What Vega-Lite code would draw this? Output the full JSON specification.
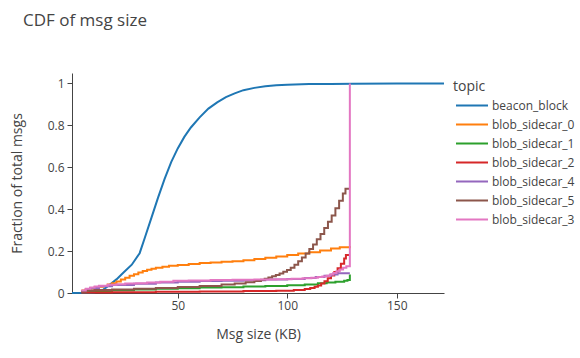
{
  "$schema": "https://vega.github.io/schema/vega-lite/v6.json",
  "autosize": {"type": "none"},
  "padding": {"left": 72, "top": 73, "right": 136, "bottom": 65},
  "width": 372,
  "height": 220,
  "background": "white",
  "title": {"text": "CDF of msg size", "anchor": "start", "frame": "group", "dx": -49, "offset": 30, "baseline": "alphabetic", "font": "Open Sans", "fontSize": 17, "fontWeight": "normal", "color": "#444"},
  "config": {
    "view": {"stroke": null},
    "axis": {"grid": false, "domainColor": "#444", "tickColor": "#444", "labelColor": "#444", "titleColor": "#444", "labelFont": "Open Sans", "titleFont": "Open Sans", "labelFontSize": 12, "titleFontSize": 14, "titleFontWeight": "normal", "tickSize": 5}
  },
  "data": {"values": [
    {"topic":"beacon_block","size":1.7,"frac":0},
    {"topic":"beacon_block","size":8,"frac":0.001},
    {"topic":"beacon_block","size":12,"frac":0.004},
    {"topic":"beacon_block","size":16,"frac":0.016},
    {"topic":"beacon_block","size":19,"frac":0.04},
    {"topic":"beacon_block","size":22,"frac":0.065},
    {"topic":"beacon_block","size":25,"frac":0.095},
    {"topic":"beacon_block","size":29,"frac":0.135},
    {"topic":"beacon_block","size":32.6,"frac":0.19},
    {"topic":"beacon_block","size":35,"frac":0.265},
    {"topic":"beacon_block","size":38,"frac":0.36},
    {"topic":"beacon_block","size":41,"frac":0.455},
    {"topic":"beacon_block","size":44,"frac":0.545},
    {"topic":"beacon_block","size":47,"frac":0.625},
    {"topic":"beacon_block","size":50,"frac":0.69},
    {"topic":"beacon_block","size":53,"frac":0.745},
    {"topic":"beacon_block","size":56,"frac":0.79},
    {"topic":"beacon_block","size":60,"frac":0.838},
    {"topic":"beacon_block","size":64,"frac":0.88},
    {"topic":"beacon_block","size":68,"frac":0.91},
    {"topic":"beacon_block","size":72,"frac":0.935},
    {"topic":"beacon_block","size":76,"frac":0.953},
    {"topic":"beacon_block","size":80,"frac":0.968},
    {"topic":"beacon_block","size":85,"frac":0.979},
    {"topic":"beacon_block","size":90,"frac":0.987},
    {"topic":"beacon_block","size":95,"frac":0.991},
    {"topic":"beacon_block","size":100,"frac":0.994},
    {"topic":"beacon_block","size":110,"frac":0.997},
    {"topic":"beacon_block","size":120,"frac":0.998},
    {"topic":"beacon_block","size":130,"frac":0.999},
    {"topic":"beacon_block","size":150,"frac":0.9995},
    {"topic":"beacon_block","size":171.6,"frac":1},

    {"topic":"blob_sidecar_0","size":6,"frac":0.012},
    {"topic":"blob_sidecar_0","size":8,"frac":0.018},
    {"topic":"blob_sidecar_0","size":10,"frac":0.022},
    {"topic":"blob_sidecar_0","size":12,"frac":0.026},
    {"topic":"blob_sidecar_0","size":14,"frac":0.03},
    {"topic":"blob_sidecar_0","size":16,"frac":0.034},
    {"topic":"blob_sidecar_0","size":18,"frac":0.04},
    {"topic":"blob_sidecar_0","size":20,"frac":0.047},
    {"topic":"blob_sidecar_0","size":22,"frac":0.055},
    {"topic":"blob_sidecar_0","size":24,"frac":0.064},
    {"topic":"blob_sidecar_0","size":26,"frac":0.073},
    {"topic":"blob_sidecar_0","size":28,"frac":0.082},
    {"topic":"blob_sidecar_0","size":30,"frac":0.09},
    {"topic":"blob_sidecar_0","size":32,"frac":0.098},
    {"topic":"blob_sidecar_0","size":34,"frac":0.105},
    {"topic":"blob_sidecar_0","size":36,"frac":0.111},
    {"topic":"blob_sidecar_0","size":38,"frac":0.116},
    {"topic":"blob_sidecar_0","size":40,"frac":0.12},
    {"topic":"blob_sidecar_0","size":43,"frac":0.125},
    {"topic":"blob_sidecar_0","size":46,"frac":0.13},
    {"topic":"blob_sidecar_0","size":50,"frac":0.134},
    {"topic":"blob_sidecar_0","size":55,"frac":0.139},
    {"topic":"blob_sidecar_0","size":60,"frac":0.143},
    {"topic":"blob_sidecar_0","size":65,"frac":0.146},
    {"topic":"blob_sidecar_0","size":70,"frac":0.149},
    {"topic":"blob_sidecar_0","size":75,"frac":0.152},
    {"topic":"blob_sidecar_0","size":80,"frac":0.156},
    {"topic":"blob_sidecar_0","size":85,"frac":0.162},
    {"topic":"blob_sidecar_0","size":90,"frac":0.168},
    {"topic":"blob_sidecar_0","size":95,"frac":0.174},
    {"topic":"blob_sidecar_0","size":100,"frac":0.181},
    {"topic":"blob_sidecar_0","size":105,"frac":0.188},
    {"topic":"blob_sidecar_0","size":110,"frac":0.195},
    {"topic":"blob_sidecar_0","size":115,"frac":0.203},
    {"topic":"blob_sidecar_0","size":120,"frac":0.212},
    {"topic":"blob_sidecar_0","size":124,"frac":0.218},
    {"topic":"blob_sidecar_0","size":128.6,"frac":0.224},

    {"topic":"blob_sidecar_1","size":6,"frac":0.004},
    {"topic":"blob_sidecar_1","size":10,"frac":0.007},
    {"topic":"blob_sidecar_1","size":15,"frac":0.01},
    {"topic":"blob_sidecar_1","size":20,"frac":0.013},
    {"topic":"blob_sidecar_1","size":30,"frac":0.017},
    {"topic":"blob_sidecar_1","size":40,"frac":0.02},
    {"topic":"blob_sidecar_1","size":50,"frac":0.023},
    {"topic":"blob_sidecar_1","size":60,"frac":0.026},
    {"topic":"blob_sidecar_1","size":70,"frac":0.028},
    {"topic":"blob_sidecar_1","size":80,"frac":0.031},
    {"topic":"blob_sidecar_1","size":90,"frac":0.034},
    {"topic":"blob_sidecar_1","size":100,"frac":0.037},
    {"topic":"blob_sidecar_1","size":108,"frac":0.041},
    {"topic":"blob_sidecar_1","size":114,"frac":0.046},
    {"topic":"blob_sidecar_1","size":118,"frac":0.05},
    {"topic":"blob_sidecar_1","size":122,"frac":0.054},
    {"topic":"blob_sidecar_1","size":126,"frac":0.059},
    {"topic":"blob_sidecar_1","size":127.5,"frac":0.062},
    {"topic":"blob_sidecar_1","size":128.6,"frac":0.088},

    {"topic":"blob_sidecar_2","size":6,"frac":0.002},
    {"topic":"blob_sidecar_2","size":20,"frac":0.004},
    {"topic":"blob_sidecar_2","size":40,"frac":0.006},
    {"topic":"blob_sidecar_2","size":60,"frac":0.007},
    {"topic":"blob_sidecar_2","size":80,"frac":0.009},
    {"topic":"blob_sidecar_2","size":95,"frac":0.011},
    {"topic":"blob_sidecar_2","size":103,"frac":0.014},
    {"topic":"blob_sidecar_2","size":108,"frac":0.019},
    {"topic":"blob_sidecar_2","size":110.5,"frac":0.024},
    {"topic":"blob_sidecar_2","size":112.5,"frac":0.03},
    {"topic":"blob_sidecar_2","size":114,"frac":0.036},
    {"topic":"blob_sidecar_2","size":115.5,"frac":0.045},
    {"topic":"blob_sidecar_2","size":117,"frac":0.056},
    {"topic":"blob_sidecar_2","size":118.5,"frac":0.07},
    {"topic":"blob_sidecar_2","size":120,"frac":0.083},
    {"topic":"blob_sidecar_2","size":121.5,"frac":0.1},
    {"topic":"blob_sidecar_2","size":123,"frac":0.118},
    {"topic":"blob_sidecar_2","size":124.5,"frac":0.14},
    {"topic":"blob_sidecar_2","size":126,"frac":0.165},
    {"topic":"blob_sidecar_2","size":126.8,"frac":0.181},
    {"topic":"blob_sidecar_2","size":128.6,"frac":0.181},

    {"topic":"blob_sidecar_4","size":6,"frac":0.01},
    {"topic":"blob_sidecar_4","size":8,"frac":0.018},
    {"topic":"blob_sidecar_4","size":10,"frac":0.024},
    {"topic":"blob_sidecar_4","size":14,"frac":0.032},
    {"topic":"blob_sidecar_4","size":20,"frac":0.038},
    {"topic":"blob_sidecar_4","size":30,"frac":0.044},
    {"topic":"blob_sidecar_4","size":40,"frac":0.05},
    {"topic":"blob_sidecar_4","size":50,"frac":0.054},
    {"topic":"blob_sidecar_4","size":60,"frac":0.057},
    {"topic":"blob_sidecar_4","size":70,"frac":0.059},
    {"topic":"blob_sidecar_4","size":80,"frac":0.061},
    {"topic":"blob_sidecar_4","size":90,"frac":0.064},
    {"topic":"blob_sidecar_4","size":100,"frac":0.067},
    {"topic":"blob_sidecar_4","size":108,"frac":0.071},
    {"topic":"blob_sidecar_4","size":113,"frac":0.076},
    {"topic":"blob_sidecar_4","size":117,"frac":0.082},
    {"topic":"blob_sidecar_4","size":120,"frac":0.088},
    {"topic":"blob_sidecar_4","size":123,"frac":0.094},
    {"topic":"blob_sidecar_4","size":128.6,"frac":0.094},

    {"topic":"blob_sidecar_5","size":6,"frac":0.006},
    {"topic":"blob_sidecar_5","size":8,"frac":0.012},
    {"topic":"blob_sidecar_5","size":12,"frac":0.014},
    {"topic":"blob_sidecar_5","size":20,"frac":0.017},
    {"topic":"blob_sidecar_5","size":30,"frac":0.02},
    {"topic":"blob_sidecar_5","size":40,"frac":0.024},
    {"topic":"blob_sidecar_5","size":50,"frac":0.029},
    {"topic":"blob_sidecar_5","size":60,"frac":0.034},
    {"topic":"blob_sidecar_5","size":70,"frac":0.04},
    {"topic":"blob_sidecar_5","size":76,"frac":0.045},
    {"topic":"blob_sidecar_5","size":81,"frac":0.051},
    {"topic":"blob_sidecar_5","size":85,"frac":0.057},
    {"topic":"blob_sidecar_5","size":88,"frac":0.063},
    {"topic":"blob_sidecar_5","size":89.7,"frac":0.068},
    {"topic":"blob_sidecar_5","size":91.4,"frac":0.074},
    {"topic":"blob_sidecar_5","size":93.1,"frac":0.08},
    {"topic":"blob_sidecar_5","size":94.8,"frac":0.086},
    {"topic":"blob_sidecar_5","size":96.5,"frac":0.093},
    {"topic":"blob_sidecar_5","size":98.2,"frac":0.101},
    {"topic":"blob_sidecar_5","size":99.9,"frac":0.11},
    {"topic":"blob_sidecar_5","size":101.6,"frac":0.12},
    {"topic":"blob_sidecar_5","size":103.3,"frac":0.135},
    {"topic":"blob_sidecar_5","size":105,"frac":0.152},
    {"topic":"blob_sidecar_5","size":106.7,"frac":0.17},
    {"topic":"blob_sidecar_5","size":108.4,"frac":0.189},
    {"topic":"blob_sidecar_5","size":110.1,"frac":0.21},
    {"topic":"blob_sidecar_5","size":111.8,"frac":0.232},
    {"topic":"blob_sidecar_5","size":113.5,"frac":0.256},
    {"topic":"blob_sidecar_5","size":115.2,"frac":0.282},
    {"topic":"blob_sidecar_5","size":116.9,"frac":0.31},
    {"topic":"blob_sidecar_5","size":118.6,"frac":0.34},
    {"topic":"blob_sidecar_5","size":120.3,"frac":0.37},
    {"topic":"blob_sidecar_5","size":122,"frac":0.405},
    {"topic":"blob_sidecar_5","size":123.7,"frac":0.44},
    {"topic":"blob_sidecar_5","size":125.4,"frac":0.475},
    {"topic":"blob_sidecar_5","size":126.6,"frac":0.497},
    {"topic":"blob_sidecar_5","size":128.6,"frac":0.497},

    {"topic":"blob_sidecar_3","size":6,"frac":0.012},
    {"topic":"blob_sidecar_3","size":8,"frac":0.02},
    {"topic":"blob_sidecar_3","size":10,"frac":0.026},
    {"topic":"blob_sidecar_3","size":12,"frac":0.031},
    {"topic":"blob_sidecar_3","size":14,"frac":0.035},
    {"topic":"blob_sidecar_3","size":18,"frac":0.039},
    {"topic":"blob_sidecar_3","size":22,"frac":0.042},
    {"topic":"blob_sidecar_3","size":26,"frac":0.045},
    {"topic":"blob_sidecar_3","size":31,"frac":0.047},
    {"topic":"blob_sidecar_3","size":36,"frac":0.05},
    {"topic":"blob_sidecar_3","size":42,"frac":0.054},
    {"topic":"blob_sidecar_3","size":48,"frac":0.058},
    {"topic":"blob_sidecar_3","size":55,"frac":0.06},
    {"topic":"blob_sidecar_3","size":65,"frac":0.062},
    {"topic":"blob_sidecar_3","size":75,"frac":0.063},
    {"topic":"blob_sidecar_3","size":85,"frac":0.064},
    {"topic":"blob_sidecar_3","size":95,"frac":0.066},
    {"topic":"blob_sidecar_3","size":102,"frac":0.068},
    {"topic":"blob_sidecar_3","size":107,"frac":0.07},
    {"topic":"blob_sidecar_3","size":111,"frac":0.073},
    {"topic":"blob_sidecar_3","size":114,"frac":0.076},
    {"topic":"blob_sidecar_3","size":116,"frac":0.079},
    {"topic":"blob_sidecar_3","size":118,"frac":0.082},
    {"topic":"blob_sidecar_3","size":119.5,"frac":0.088},
    {"topic":"blob_sidecar_3","size":121,"frac":0.096},
    {"topic":"blob_sidecar_3","size":122.5,"frac":0.104},
    {"topic":"blob_sidecar_3","size":124,"frac":0.112},
    {"topic":"blob_sidecar_3","size":125.5,"frac":0.12},
    {"topic":"blob_sidecar_3","size":127,"frac":0.128},
    {"topic":"blob_sidecar_3","size":128.6,"frac":1.0}
  ]},
  "encoding": {
    "x": {"field": "size", "type": "quantitative", "title": "Msg size (KB)", "scale": {"domain": [1.7, 171.6], "nice": false, "zero": false}, "axis": {"values": [50, 100, 150], "labelPadding": 2, "titlePadding": 16}},
    "y": {"field": "frac", "type": "quantitative", "title": "Fraction of total msgs", "scale": {"domain": [0, 1.05], "nice": false}, "axis": {"values": [0, 0.2, 0.4, 0.6, 0.8, 1], "format": "~g", "labelPadding": 3, "titlePadding": 23}},
    "color": {"field": "topic", "type": "nominal", "title": "topic",
      "scale": {"domain": ["beacon_block", "blob_sidecar_0", "blob_sidecar_1", "blob_sidecar_2", "blob_sidecar_4", "blob_sidecar_5", "blob_sidecar_3"],
                "range": ["#1f77b4", "#ff7f0e", "#2ca02c", "#d62728", "#9467bd", "#8c564b", "#e377c2"]},
      "legend": {"orient": "none", "legendX": 381, "legendY": 7, "padding": 0, "symbolType": "stroke", "symbolSize": 1024, "symbolStrokeWidth": 2, "clipHeight": 19, "rowPadding": 0, "labelOffset": 3, "symbolOffset": 2, "titleFont": "Open Sans", "titleFontSize": 14, "titleFontWeight": "normal", "titleColor": "#444", "titlePadding": 2, "labelFont": "Open Sans", "labelFontSize": 12, "labelColor": "#444"}}
  },
  "layer": [
    {"transform": [{"filter": "datum.topic === 'beacon_block'"}], "mark": {"type": "line", "strokeWidth": 2, "interpolate": "linear"}},
    {"transform": [{"filter": "datum.topic !== 'beacon_block'"}], "mark": {"type": "line", "strokeWidth": 2, "interpolate": "step-after"}}
  ]
}
